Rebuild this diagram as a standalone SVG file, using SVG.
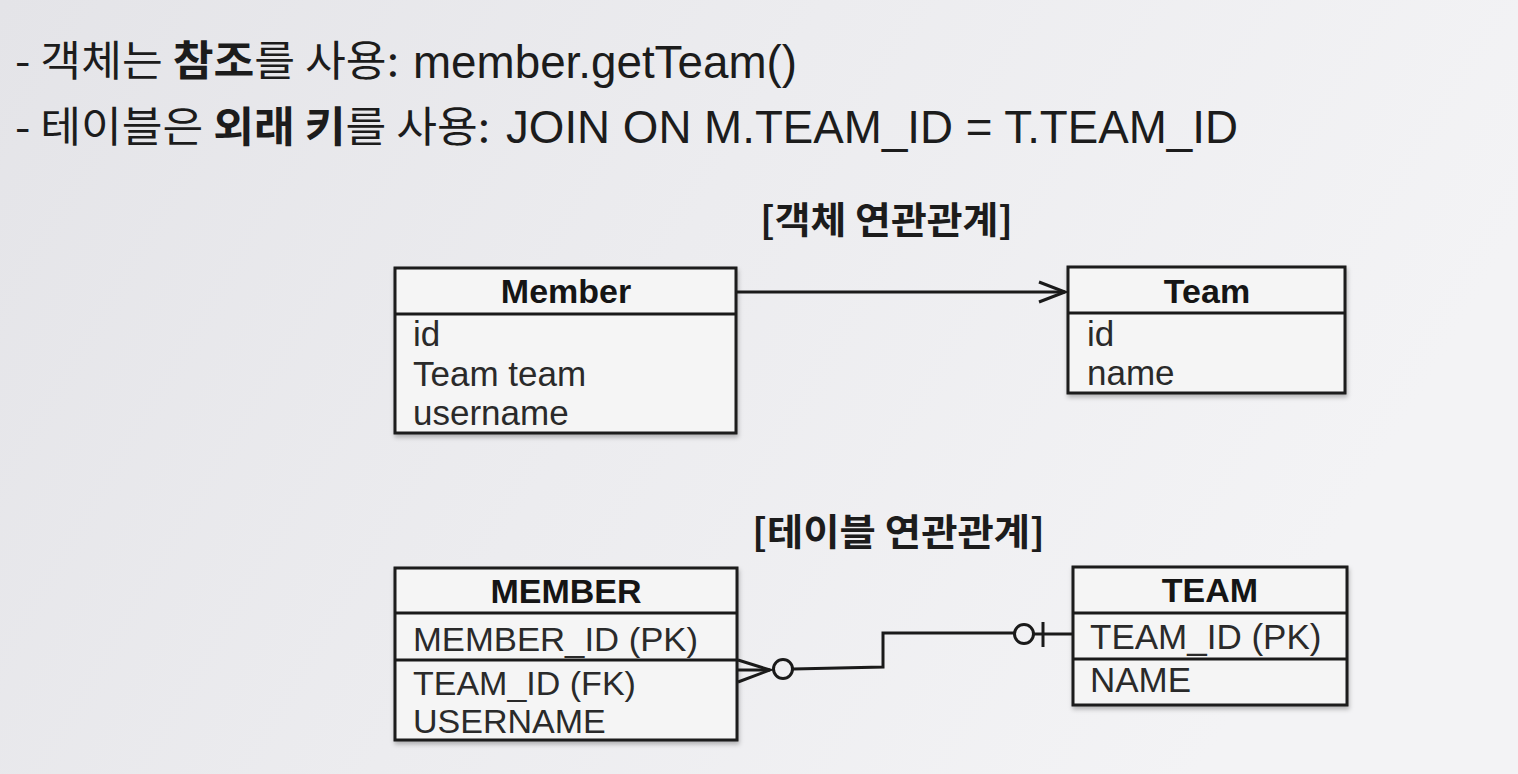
<svg xmlns="http://www.w3.org/2000/svg" width="1518" height="774" viewBox="0 0 1518 774">
<defs>
<linearGradient id="bg" x1="0" y1="0" x2="1" y2="0.3">
<stop offset="0" stop-color="#e4e4e8"/>
<stop offset="0.5" stop-color="#ececef"/>
<stop offset="1" stop-color="#f3f3f5"/>
</linearGradient>
<filter id="sh" x="-5%" y="-5%" width="110%" height="115%">
<feDropShadow dx="1" dy="3" stdDeviation="2" flood-color="#000" flood-opacity="0.25"/>
</filter>
</defs>
<style>
.t{font-family:"Liberation Sans","Noto Sans CJK KR",sans-serif;fill:#1c1c1c}
.k{font-family:"Noto Sans CJK KR","Liberation Sans",sans-serif;fill:#1c1c1c}
.b{font-weight:bold}
.box{fill:#f5f5f5;stroke:#1a1a1a;stroke-width:3}
.div{stroke:#1a1a1a;stroke-width:3}
.hd{font-family:"Liberation Sans",sans-serif;font-weight:bold;font-size:34px;fill:#151515;text-anchor:middle}
.at{font-family:"Liberation Sans",sans-serif;font-size:35px;fill:#2a2a2a}
.at2{font-family:"Liberation Sans",sans-serif;font-size:34px;fill:#2a2a2a}
.ln{fill:none;stroke:#1a1a1a;stroke-width:3}
</style>
<rect x="0" y="0" width="1518" height="774" fill="url(#bg)"/>

<g id="titles">
<text class="k" x="15" y="76" font-size="42" textLength="384" lengthAdjust="spacingAndGlyphs">- 객체는 <tspan class="b">참조</tspan>를 사용:</text>
<text class="t" x="413" y="78" font-size="47" textLength="384" lengthAdjust="spacingAndGlyphs">member.getTeam()</text>
<text class="k" x="15" y="142" font-size="42" textLength="475" lengthAdjust="spacingAndGlyphs">- 테이블은 <tspan class="b">외래 키</tspan>를 사용:</text>
<text class="t" x="506" y="143" font-size="47" textLength="732" lengthAdjust="spacingAndGlyphs">JOIN ON M.TEAM_ID = T.TEAM_ID</text>
<text class="k b" x="760" y="234" font-size="37" textLength="253" lengthAdjust="spacingAndGlyphs">[객체 연관관계]</text>
<text class="k b" x="752" y="546" font-size="37" textLength="293" lengthAdjust="spacingAndGlyphs">[테이블 연관관계]</text>
</g>

<g id="node-member">
<rect class="box" x="395" y="268" width="341" height="165" filter="url(#sh)"/>
<line class="div" x1="395" y1="314" x2="736" y2="314"/>
<text class="hd" x="566" y="303">Member</text>
<text class="at" x="413" y="346">id</text>
<text class="at" x="413" y="386">Team team</text>
<text class="at" x="413" y="425">username</text>
</g>

<g id="node-team">
<rect class="box" x="1068" y="267" width="277" height="126" filter="url(#sh)"/>
<line class="div" x1="1068" y1="313" x2="1345" y2="313"/>
<text class="hd" x="1207" y="303">Team</text>
<text class="at" x="1087" y="346">id</text>
<text class="at" x="1087" y="385">name</text>
</g>

<g id="node-MEMBER">
<rect class="box" x="395" y="568" width="342" height="172" filter="url(#sh)"/>
<line class="div" x1="395" y1="613" x2="737" y2="613"/>
<line class="div" x1="395" y1="660" x2="737" y2="660"/>
<text class="hd" x="566" y="603">MEMBER</text>
<text class="at2" x="413" y="651" textLength="285" lengthAdjust="spacingAndGlyphs">MEMBER_ID (PK)</text>
<text class="at2" x="413" y="695">TEAM_ID (FK)</text>
<text class="at2" x="413" y="733">USERNAME</text>
</g>

<g id="node-TEAM">
<rect class="box" x="1073" y="567" width="274" height="138" filter="url(#sh)"/>
<line class="div" x1="1073" y1="613" x2="1347" y2="613"/>
<line class="div" x1="1073" y1="659" x2="1347" y2="659"/>
<text class="hd" x="1210" y="602">TEAM</text>
<text class="at" x="1090" y="649">TEAM_ID (PK)</text>
<text class="at" x="1090" y="692">NAME</text>
</g>

<g id="connectors">
<line class="ln" x1="737" y1="292" x2="1065" y2="292"/>
<polyline class="ln" points="1039,282 1065,292 1039,302"/>

<polyline class="ln" points="738,660 770,670 738,682"/>
<line class="ln" x1="738" y1="670" x2="770" y2="670"/>
<circle class="ln" cx="783" cy="669" r="9.5"/>
<polyline class="ln" points="793,669 883,667 883,633 1014,633"/>
<circle class="ln" cx="1024" cy="634" r="9.5"/>
<line class="ln" x1="1034" y1="634" x2="1073" y2="634"/>
<line class="ln" x1="1043" y1="622" x2="1043" y2="647"/>
</g>
</svg>
